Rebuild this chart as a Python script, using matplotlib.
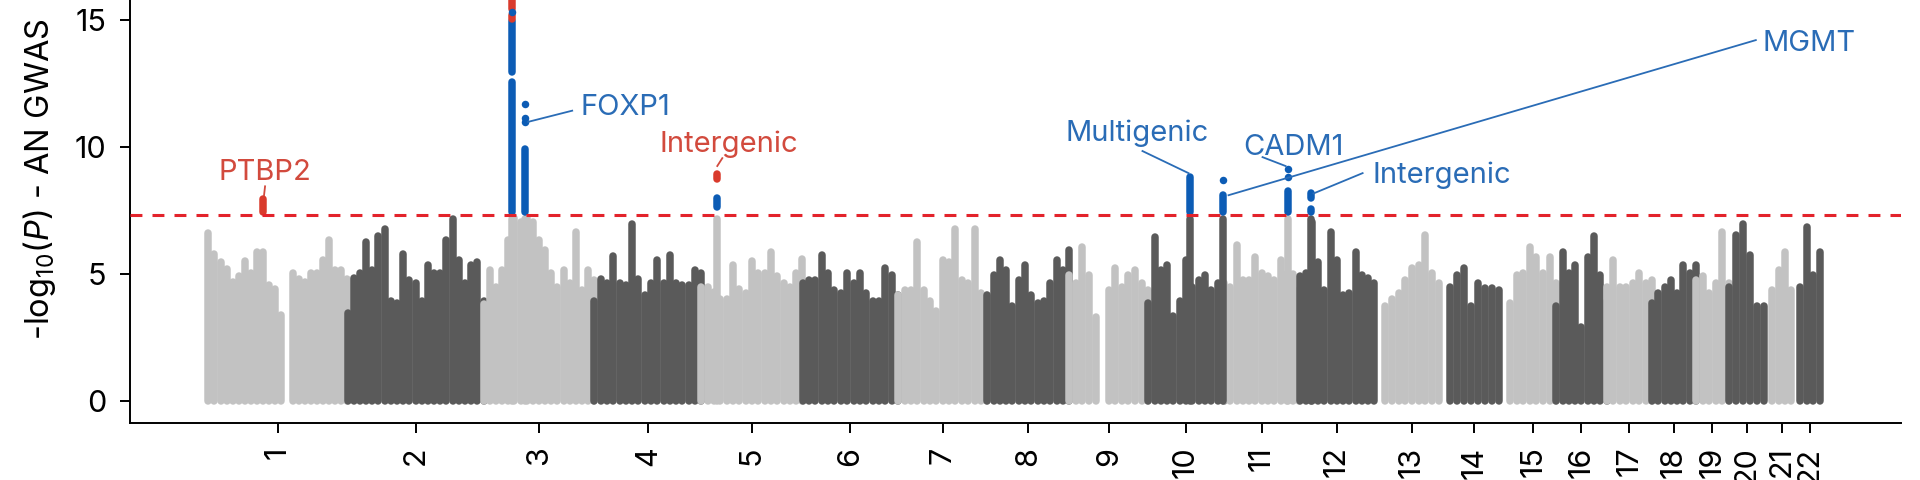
import numpy as np
import matplotlib
matplotlib.use('Agg')
import matplotlib.pyplot as plt

plt.rcParams['font.family'] = ['Inter', 'DejaVu Sans']
plt.rcParams['mathtext.fontset'] = 'custom'
plt.rcParams['mathtext.rm'] = 'Inter'
plt.rcParams['mathtext.it'] = 'Inter:italic'

#####################################################################
# chromosome sizes (Mb) and first position with data (Mb)
chr_names = [str(i) for i in range(1, 23)]
chr_len   = [249.25, 243.2, 198.0, 191.15, 180.9, 171.1, 159.1, 146.35, 141.2, 135.5, 135.0,
             133.85, 115.15, 107.35, 102.5, 90.35, 81.2, 78.1, 59.1, 63.0, 48.1, 51.3]
chr_first = [0.7, 0.1, 0.1, 0.1, 0.1, 0.2, 0.2, 0.2, 0.2, 0.2, 0.2,
             0.2, 19.3, 19.5, 20.1, 0.1, 0.1, 0.1, 0.3, 0.1, 14.6, 16.1]

nan = np.nan
# top of the -log10(P) cloud along each chromosome
h1  = [6.6, 5.8, 5.45, 5.2, 4.7, 4.9, 5.5, 5.05, 5.85, 5.85, 4.55, 4.4, 3.4, nan, 5.05, 4.8,
       4.7, 5.05, 5.05, 5.55, 6.35, 5.15, 5.15, 4.8]
h2  = [3.45, 4.85, 5.05, 6.25, 5.15, 6.5, 6.75, 3.95, 3.85, 5.8, 4.75, 4.65, 3.95, 5.35, 5.05,
       5.05, 6.35, 7.15, 5.55, 4.65, 5.35, 5.45, 3.95]
h3  = [3.8, 5.15, 4.5, 5.15, 6.35, 7.2, 7.05, 7.2, 7.05, 6.35, 5.95, 5.05, 4.5, 5.15, 4.65,
       6.65, 4.35, 5.15, 4.75]
h4  = [3.95, 4.8, 4.65, 5.7, 4.65, 4.55, 6.95, 4.8, 4.15, 4.65, 5.55, 4.65, 5.75, 4.65, 4.55,
       4.55, 5.15, 5.05]
h5  = [4.5, 4.5, 4.3, 4.0, 4.0, 5.35, 4.4, 4.25, 5.5, 5.05, 5.05, 5.85, 4.9, 4.65, 4.5, 5.05, 5.6]
h6  = [4.65, 4.75, 4.75, 5.75, 5.05, 4.35, 4.25, 5.05, 4.65, 5.05, 4.25, 3.95, 3.95, 5.25, 4.95, 4.15]
h7  = [4.15, 4.35, 4.35, 6.25, 4.35, 3.95, 3.55, 5.55, 5.45, 6.75, 4.75, 4.65, 6.75, 4.25, 4.15]
h8  = [4.15, 4.95, 5.55, 5.15, 3.75, 4.75, 5.35, 4.15, 3.85, 3.95, 4.65, 5.55, 5.15, 5.95]
h9  = [4.95, 4.65, 6.05, 4.95, 3.3, nan, 4.35, 5.25, 4.5, 4.95, 5.15, 4.65, 4.35]
h10 = [3.85, 6.45, 5.15, 5.35, 3.35, 3.95, 5.55, 4.5, 4.75, 4.95, 4.35, 4.65, 4.5]
h11 = [4.65, 4.5, 6.15, 4.75, 4.75, 5.65, 5.05, 4.9, 4.75, 5.55, 5.0, 5.0, 4.35]
h12 = [4.9, 5.05, 7.05, 5.45, 4.35, 6.65, 5.55, 4.15, 4.25, 5.85, 4.95, 4.85, 4.65]
h13 = [3.75, 4.0, 4.25, 4.75, 5.25, 5.35, 6.55, 5.05, 4.65]
h14 = [4.5, 4.95, 5.25, 3.75, 4.65, 4.45, 4.45, 4.35]
h15 = [3.85, 4.95, 5.05, 6.05, 5.65, 5.05, 5.65, 4.65]
h16 = [3.75, 5.85, 5.05, 5.35, 2.9, 5.65, 6.5, 4.95, 3.95]
h17 = [4.5, 5.55, 4.5, 4.5, 4.65, 5.05, 4.65, 4.75]
h18 = [3.85, 4.25, 4.5, 4.75, 4.25, 5.35, 5.05, 5.35]
h19 = [4.75, 4.9, 4.25, 4.65, 6.65, 4.65]
h20 = [4.5, 6.55, 6.95, 5.75, 3.75, 3.75]
h21 = [4.35, 5.15, 5.85, 4.35]
h22 = [4.5, 6.85, 4.95, 5.85]
heights = [h1, h2, h3, h4, h5, h6, h7, h8, h9, h10, h11, h12, h13, h14, h15, h16, h17, h18,
           h19, h20, h21, h22]

# loci reaching the threshold: chromosome, position (Mb)
loc_chr = [3, 3, 5, 10, 10, 11, 12]
loc_pos = [51.2, 74.4, 28.6, 75.7, 133.0, 115.4, 19.8]
loc_top = [7.15, 7.15, 7.15, 7.15, 7.15, 7.15, 7.15]

# genome-wide significant runs of SNPs (chrom, pos, from, to, colour)
seg_chr = [1, 3, 3, 3, 3, 3, 5, 5, 10, 10, 11, 12, 12]
seg_pos = [98.3, 51.2, 51.2, 51.2, 51.2, 74.4, 28.6, 28.6, 75.7, 133.0, 115.4, 19.8, 19.8]
seg_lo  = [7.45, 7.45, 12.95, 15.05, 15.45, 7.45, 7.65, 8.75, 7.45, 7.45, 7.45, 8.0, 7.45]
seg_hi  = [7.95, 12.55, 14.95, 15.2, 16.8, 9.93, 8.0, 8.95, 8.82, 8.1, 8.25, 8.2, 7.55]
seg_col = ['r', 'b', 'b', 'r', 'r', 'b', 'b', 'r', 'b', 'b', 'b', 'b', 'b']

# single significant SNPs
dot_chr = [3, 3, 3, 3, 10, 11, 11]
dot_pos = [51.2, 74.4, 74.4, 74.4, 133.0, 115.4, 115.4]
dot_val = [15.3, 11.0, 11.15, 11.7, 8.69, 8.8, 9.15]

# gene labels: text, x (cum. Mb), y baseline, align, colour, leader (x0, y0, x1, y1)
lab_txt = ['PTBP2', 'FOXP1', 'Intergenic', 'Multigenic', 'CADM1', 'Intergenic', 'MGMT']
lab_x   = [101.9, 665.2, 930.0, 1660.5, 1939.4, 2081.5, 2778.5]
lab_y   = [8.69, 11.27, 9.8, 10.25, 9.69, 8.57, 13.8]
lab_ha  = ['center', 'left', 'center', 'center', 'center', 'left', 'left']
lab_col = ['r', 'b', 'r', 'b', 'b', 'b', 'b']
lead_x0 = [101.9, 650.9, 919.2, 1670.2, 1884.8, 2063.7, 2766.5]
lead_y0 = [8.45, 11.43, 9.56, 9.84, 9.6, 8.97, 14.21]
lead_x1 = [100.1, 572.2, 910.2, 1752.5, 1926.0, 1976.0, 1824.0]
lead_y1 = [8.1, 10.99, 9.25, 8.97, 9.25, 8.17, 8.1]

threshold = -np.log10(5e-8)
#####################################################################
light, dark = '#c2c2c2', '#5a5a5a'
pt_col  = {'b': '#0c5cb5', 'r': '#d93a2c'}
txt_col = {'b': '#2a6cb6', 'r': '#d24a3d'}
lw_pt   = 5.4   # ~ one dot wide

offsets = np.concatenate([[0], np.cumsum(chr_len)[:-1]])
centers = offsets + (np.array(chr_first) + np.array(chr_len)) / 2.

fig = plt.figure(figsize=(19.2, 4.8), dpi=100)
ax  = fig.add_axes([130/1920., 57/480., 1771/1920., 423/480.])

for i, h in enumerate(heights):
    h = np.array(h)
    x = offsets[i] + np.linspace(chr_first[i], chr_len[i], len(h))
    ok = ~np.isnan(h)
    col = light if i % 2 == 0 else dark
    ax.vlines(x[ok], 0, h[ok], colors=col, lw=lw_pt, capstyle='round', zorder=1)

for c, p, t in zip(loc_chr, loc_pos, loc_top):
    col = light if (c - 1) % 2 == 0 else dark
    ax.vlines(offsets[c-1] + p, 0, t, colors=col, lw=lw_pt, capstyle='round', zorder=1)

for c, p, lo, hi, k in zip(seg_chr, seg_pos, seg_lo, seg_hi, seg_col):
    ax.vlines(offsets[c-1] + p, lo, hi, colors=pt_col[k], lw=lw_pt, capstyle='round', zorder=2)

ax.scatter(offsets[np.array(dot_chr)-1] + np.array(dot_pos), dot_val, s=lw_pt**2,
           color=pt_col['b'], lw=0, zorder=2)

ax.axhline(threshold, color='#e3232b', lw=2.2, ls=(0, (3.9, 3.3)), zorder=4)

for i in range(len(lab_txt)):
    ax.plot([lead_x0[i], lead_x1[i]], [lead_y0[i], lead_y1[i]], color=txt_col[lab_col[i]],
            lw=1.3, zorder=3)
    ax.text(lab_x[i], lab_y[i], lab_txt[i], ha=lab_ha[i], va='baseline', fontsize=21,
            color=txt_col[lab_col[i]], zorder=5)

ax.set_xlim(-139.5, 3026)
ax.set_ylim(-0.873, 15.79)
ax.set_yticks([0, 5, 10, 15])
ax.set_xticks(centers)
ax.set_xticklabels(chr_names, rotation=90)
ax.tick_params(labelsize=22, length=7, width=1.4, pad=10)
for s in ['top', 'right']:
    ax.spines[s].set_visible(False)
for s in ['left', 'bottom']:
    ax.spines[s].set_linewidth(1.4)

fig.text(40/1920., 1 - 179/480., r'-log$_{10}$($\mathit{P}$) - AN GWAS', rotation=90,
         ha='center', va='center', fontsize=23.5)

fig.savefig('out.png', dpi=100)
